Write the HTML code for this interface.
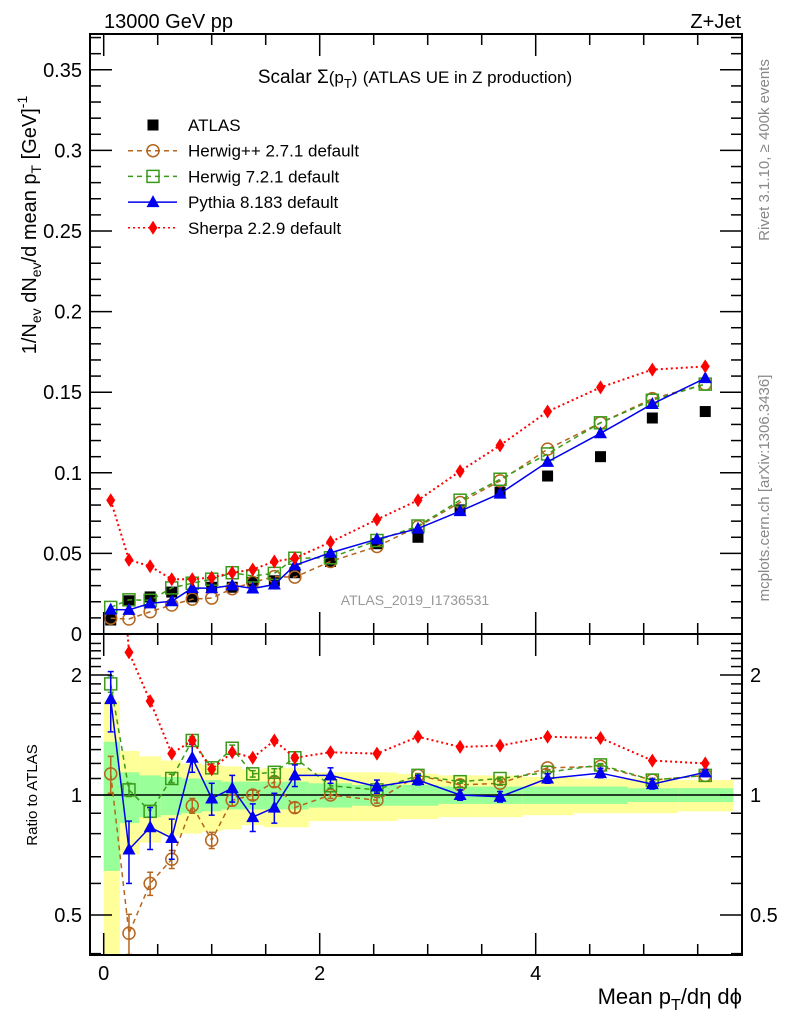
<!DOCTYPE html>
<html><head><meta charset="utf-8"><style>
body{margin:0;background:#fff}
svg{display:block;font-family:"Liberation Sans",sans-serif}
</style></head><body>
<svg id="plot" width="786" height="1024" viewBox="0 0 786 1024" xmlns="http://www.w3.org/2000/svg">
<rect width="786" height="1024" fill="#fff"/>
<g id="bands"></g>
<g id="series"></g>
<g id="axes"></g>
<text x="104" y="28" font-size="20">13000 GeV pp</text>
<text x="741" y="28" font-size="20" text-anchor="end">Z+Jet</text>
<text x="415" y="83" font-size="19" text-anchor="middle">Scalar Σ<tspan font-size="17">(p</tspan><tspan font-size="13" dy="5">T</tspan><tspan font-size="17" dy="-5">)</tspan> <tspan font-size="17">(ATLAS UE in Z production)</tspan></text>
<text x="415" y="605" font-size="14" fill="#999" text-anchor="middle">ATLAS_2019_I1736531</text>
<text transform="translate(769,150) rotate(-90)" font-size="15" fill="#888" text-anchor="middle">Rivet 3.1.10, ≥ 400k events</text>
<text transform="translate(769,488) rotate(-90)" font-size="15" fill="#888" text-anchor="middle">mcplots.cern.ch [arXiv:1306.3436]</text>
<text transform="translate(36,225) rotate(-90)" font-size="20" text-anchor="middle">1/N<tspan font-size="14" dy="5">ev</tspan><tspan dy="-5"> dN</tspan><tspan font-size="14" dy="5">ev</tspan><tspan dy="-5">/d mean p</tspan><tspan font-size="14" dy="5">T</tspan><tspan dy="-5">  [GeV]</tspan><tspan font-size="14" dy="-9">-1</tspan></text>
<text transform="translate(37,795) rotate(-90)" font-size="15" text-anchor="middle">Ratio to ATLAS</text>
<text x="742" y="1004" font-size="22" text-anchor="end">Mean p<tspan font-size="16" dy="6">T</tspan><tspan dy="-6">/dη dϕ</tspan></text>
<g id="legend"></g>
</svg>
<script>
const xs=[0.065,0.234,0.43,0.63,0.82,1.0,1.19,1.38,1.58,1.77,2.1,2.53,2.91,3.3,3.67,4.11,4.6,5.08,5.57];
const edges=[0,0.15,0.33,0.53,0.72,0.91,1.09,1.28,1.48,1.68,1.9,2.3,2.72,3.1,3.48,3.88,4.35,4.85,5.32,5.83];
const atlas=[0.0087,0.0206,0.023,0.026,0.023,0.029,0.029,0.032,0.033,0.038,0.045,0.056,0.060,0.077,0.088,0.098,0.110,0.134,0.138];
const hwpp=[0.0098,0.0093,0.0138,0.018,0.0216,0.0223,0.0281,0.032,0.0356,0.0353,0.045,0.0543,0.0666,0.0816,0.095,0.1147,0.131,0.146,0.155];
const hw7=[0.0165,0.0212,0.0209,0.0286,0.0315,0.034,0.038,0.036,0.0376,0.047,0.0473,0.058,0.067,0.083,0.096,0.1117,0.131,0.145,0.155];
const py8=[0.0151,0.015,0.019,0.0203,0.0285,0.0284,0.0302,0.0282,0.0307,0.0426,0.0504,0.0588,0.0654,0.0762,0.0871,0.1068,0.1245,0.1427,0.1587];
const sherpa=[0.083,0.046,0.042,0.034,0.034,0.035,0.038,0.040,0.045,0.047,0.057,0.071,0.083,0.101,0.117,0.138,0.153,0.164,0.166];
const rHwpp=[1.13,0.45,0.6,0.69,0.94,0.77,0.97,1.0,1.08,0.93,1.0,0.97,1.12,1.06,1.07,1.17,1.18,1.09,1.12];
const rHw7=[1.9,1.03,0.91,1.10,1.37,1.17,1.31,1.13,1.14,1.24,1.055,1.03,1.12,1.08,1.10,1.14,1.19,1.09,1.12];
const rPy8=[1.74,0.73,0.83,0.78,1.24,0.98,1.04,0.88,0.93,1.12,1.12,1.05,1.09,1.0,0.99,1.10,1.135,1.065,1.14];
const rPy8Err=[0.3,0.13,0.1,0.09,0.1,0.09,0.08,0.07,0.08,0.07,0.05,0.04,0.03,0.03,0.03,0.03,0.03,0.03,0.02];
const rSherpa=[9.5,2.28,1.72,1.27,1.37,1.16,1.28,1.24,1.37,1.24,1.28,1.27,1.40,1.32,1.33,1.40,1.39,1.22,1.20];
const yelLo=[0.3,0.71,0.76,0.79,0.80,0.81,0.82,0.84,0.83,0.83,0.86,0.86,0.87,0.88,0.88,0.89,0.90,0.90,0.91];
const yelHi=[1.72,1.29,1.25,1.22,1.20,1.19,1.18,1.16,1.17,1.17,1.14,1.14,1.13,1.12,1.12,1.11,1.10,1.10,1.09];
const grnLo=[0.645,0.85,0.88,0.89,0.90,0.91,0.92,0.92,0.92,0.92,0.93,0.94,0.94,0.95,0.95,0.95,0.95,0.96,0.96];
const grnHi=[1.36,1.14,1.12,1.11,1.10,1.09,1.08,1.08,1.08,1.08,1.07,1.06,1.06,1.05,1.05,1.05,1.05,1.04,1.04];
const xTicks=[0,2,4];
const yTicks=[0,0.05,0.1,0.15,0.2,0.25,0.3,0.35];
const yTickLabels=["0","0.05","0.1","0.15","0.2","0.25","0.3","0.35"];
const rTicks=[0.5,1,2];
const rTickLabels=["0.5","1","2"];

const NS="http://www.w3.org/2000/svg";
const L=90,R=742,MT=34,MB=634,RT=634,RB=955;
const X=v=>103.7+v*108;
const Y=v=>634-v*1612;
const YR=r=>795-120*Math.log2(r);
function mk(parent,tag,attrs){const e=document.createElementNS(NS,tag);for(const k in attrs)e.setAttribute(k,attrs[k]);parent.appendChild(e);return e;}
const bands=document.getElementById('bands'),ser=document.getElementById('series'),ax=document.getElementById('axes');

const clipR=mk(document.getElementById('plot'),'clipPath',{id:'cr'});mk(clipR,'rect',{x:L,y:RT,width:R-L,height:RB-RT});
const clipM=mk(document.getElementById('plot'),'clipPath',{id:'cm'});mk(clipM,'rect',{x:L,y:MT,width:R-L,height:MB-MT});
bands.setAttribute('clip-path','url(#cr)');
for(let i=0;i<xs.length;i++){
  const x0=X(edges[i]),w=X(edges[i+1])-x0;
  const yb=mk(bands,'rect',{x:x0,y:YR(yelHi[i]),width:w,height:YR(yelLo[i])-YR(yelHi[i]),fill:'#ffff99'});
  
  
  const gb=mk(bands,'rect',{x:x0,y:YR(grnHi[i]),width:w,height:YR(grnLo[i])-YR(grnHi[i]),fill:'#99ff99'});
  
  
}
const one=mk(bands,'line',{x1:L,x2:R,y1:YR(1),y2:YR(1),stroke:'#000','stroke-width':1.5});



function marker(g,type,cx,cy,color){
  if(type==='sq') return mk(g,'rect',{x:cx-5.5,y:cy-5.5,width:11,height:11,fill:'#000'});
  if(type==='circ') return mk(g,'circle',{cx,cy,r:6,fill:'none',stroke:color,'stroke-width':1.5});
  if(type==='osq') return mk(g,'rect',{x:cx-6,y:cy-6,width:12,height:12,fill:'none',stroke:color,'stroke-width':1.5});
  if(type==='tri') return mk(g,'polygon',{points:`${cx},${cy-7} ${cx-6.5},${cy+5} ${cx+6.5},${cy+5}`,fill:color});
  if(type==='dia') return mk(g,'polygon',{points:`${cx},${cy-7} ${cx+4.5},${cy} ${cx},${cy+7} ${cx-4.5},${cy}`,fill:color});
}
function series(vals,Yf,color,dash,type,name,errs,clip){
  const g=mk(ser,'g',{'clip-path':clip});
  
  
  if(dash!==null){
    const pts=xs.map((x,i)=>X(x)+','+Yf(vals[i])).join(' ');
    const pl=mk(g,'polyline',{points:pts,fill:'none',stroke:color,'stroke-width':type==='dia'?2:1.5,'stroke-dasharray':dash});
    
    
  }
  xs.forEach((x,i)=>{
    if(errs){const e=errs[i];const a=Yf(vals[i]+e),b=Yf(Math.max(vals[i]-e,0.01));
      mk(g,'line',{x1:X(x),x2:X(x),y1:a,y2:b,stroke:color,'stroke-width':1.5});
      mk(g,'line',{x1:X(x)-3,x2:X(x)+3,y1:a,y2:a,stroke:color,'stroke-width':1.5});
      mk(g,'line',{x1:X(x)-3,x2:X(x)+3,y1:b,y2:b,stroke:color,'stroke-width':1.5});}
    const m=marker(g,type,X(x),Yf(vals[i]),color);
    
    
  });
}
const C={hwpp:'#b5651d',hw7:'#3a9a1a',py:'#0000ee',sh:'#ff0000'};
series(atlas,Y,'#000',null,'sq','atlas-data',null,'url(#cm)');
series(hwpp,Y,C.hwpp,'5,4','circ','herwigpp-main',null,'url(#cm)');
series(hw7,Y,C.hw7,'5,4','osq','herwig7-main',null,'url(#cm)');
series(py8,Y,C.py,'none','tri','pythia8-main',null,'url(#cm)');
series(sherpa,Y,C.sh,'2,3','dia','sherpa-main',null,'url(#cm)');
series(rHwpp,YR,C.hwpp,'5,4','circ','herwigpp-ratio',rPy8Err.map(e=>e*0.4),'url(#cr)');
series(rHw7,YR,C.hw7,'5,4','osq','herwig7-ratio',rPy8Err.map(e=>e*0.3),'url(#cr)');
series(rPy8,YR,C.py,'none','tri','pythia8-ratio',rPy8Err,'url(#cr)');
series(rSherpa,YR,C.sh,'2,3','dia','sherpa-ratio',null,'url(#cr)');

[[MT,MB,'main-frame'],[RT,RB,'ratio-frame']].forEach(([t,b,n])=>{
  const r=mk(ax,'rect',{x:L,y:t,width:R-L,height:b-t,fill:'none',stroke:'#000','stroke-width':2});
  
  
});
for(let v=0;v<=6;v+=0.5){const px=X(v);if(px>R)break;const maj=xTicks.includes(v);const len=maj?22:11;
  [[MB,-1],[MT,1],[RB,-1],[RT,1]].forEach(([y0,d])=>mk(ax,'line',{x1:px,x2:px,y1:y0,y2:y0+d*len,stroke:'#000','stroke-width':1.5}));}
xTicks.forEach(v=>{const t=mk(ax,'text',{x:X(v),y:980,'font-size':20,'text-anchor':'middle'});t.textContent=String(v);
  
  });
for(let k=0;k<=37;k++){const v=k*0.01;const py=Y(v);if(py<MT)break;const maj=k%5===0;const len=maj?22:11;
  mk(ax,'line',{x1:L,x2:L+len,y1:py,y2:py,stroke:'#000','stroke-width':1.5});
  mk(ax,'line',{x1:R,x2:R-len,y1:py,y2:py,stroke:'#000','stroke-width':1.5});}
yTicks.forEach((v,i)=>{const t=mk(ax,'text',{x:82,y:Y(v)+7,'font-size':20,'text-anchor':'end'});t.textContent=yTickLabels[i];
  
  });
[0.4,0.5,0.6,0.7,0.8,0.9,1,2].concat([1.1,1.2,1.3,1.4,1.5,1.6,1.7,1.8,1.9,2.1,2.2,2.3,2.4]).forEach(v=>{
  const py=YR(v);if(py<RT||py>RB)return;const maj=rTicks.includes(v);const len=maj?22:11;
  mk(ax,'line',{x1:L,x2:L+len,y1:py,y2:py,stroke:'#000','stroke-width':1.5});
  mk(ax,'line',{x1:R,x2:R-len,y1:py,y2:py,stroke:'#000','stroke-width':1.5});});
rTicks.forEach((v,i)=>{[[82,'end'],[750,'start']].forEach(([x,a])=>{const t=mk(ax,'text',{x,y:YR(v)+7,'font-size':20,'text-anchor':a});t.textContent=rTickLabels[i];
  
  });});

const lg=document.getElementById('legend');
const entries=[['ATLAS','#000',null,'sq'],['Herwig++ 2.7.1 default',C.hwpp,'5,4','circ'],['Herwig 7.2.1 default',C.hw7,'5,4','osq'],['Pythia 8.183 default',C.py,'none','tri'],['Sherpa 2.2.9 default',C.sh,'2,3','dia']];
entries.forEach((e,i)=>{const y=125+i*25.7;const g=mk(lg,'g',{});
  
  
  if(e[2]!==null)mk(g,'line',{x1:128,x2:177,y1:y,y2:y,stroke:e[1],'stroke-width':1.5,'stroke-dasharray':e[2]});
  marker(g,e[3],153,y,e[1]);
  const t=mk(g,'text',{x:188,y:y+6,'font-size':17});t.textContent=e[0];});
</script>
</body></html>
